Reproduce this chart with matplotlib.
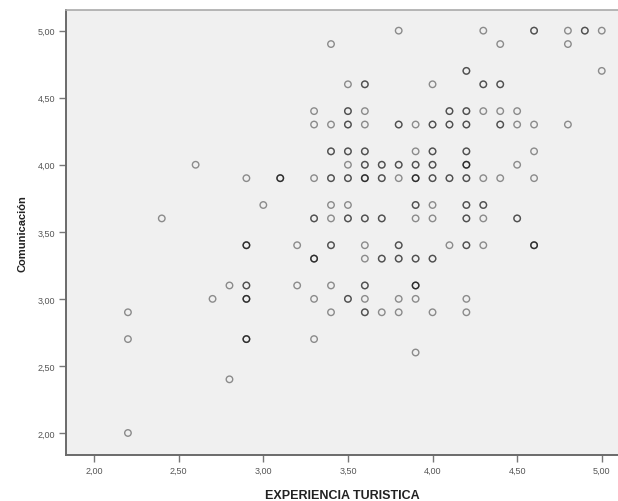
import numpy as np
import matplotlib
matplotlib.use("Agg")
import matplotlib.pyplot as plt
from matplotlib.ticker import FuncFormatter

# Data: (EXPERIENCIA TURISTICA, Comunicación, number of overlapping cases)
exp_x = [3.8, 4.3, 4.6, 4.8, 4.9, 5.0,
         3.4, 4.4, 4.8,
         4.2, 5.0,
         3.5, 3.6, 4.0, 4.3, 4.4,
         3.3, 3.5, 3.6, 4.1, 4.2, 4.3, 4.4, 4.5,
         3.3, 3.4, 3.5, 3.6, 3.8, 3.9, 4.0, 4.1, 4.2, 4.4, 4.5, 4.6, 4.8,
         3.4, 3.5, 3.6, 3.9, 4.0, 4.2, 4.6,
         2.6, 3.5, 3.6, 3.7, 3.8, 3.9, 4.0, 4.2, 4.5,
         2.9, 3.1, 3.3, 3.4, 3.5, 3.6, 3.7, 3.8, 3.9, 4.0, 4.1, 4.2, 4.3, 4.4, 4.6,
         3.0, 3.4, 3.5, 3.9, 4.0, 4.2, 4.3,
         2.4, 3.3, 3.4, 3.5, 3.6, 3.7, 3.9, 4.0, 4.2, 4.3, 4.5,
         2.9, 3.2, 3.4, 3.6, 3.8, 4.1, 4.2, 4.3, 4.6,
         3.3, 3.6, 3.7, 3.8, 3.9, 4.0,
         2.8, 2.9, 3.2, 3.4, 3.6, 3.9,
         2.7, 2.9, 3.3, 3.5, 3.6, 3.8, 3.9, 4.2,
         2.2, 3.4, 3.6, 3.7, 3.8, 4.0, 4.2,
         2.2, 2.9, 3.3,
         3.9,
         2.8,
         2.2]
com_y = [5.0] * 6 + [4.9] * 3 + [4.7] * 2 + [4.6] * 5 + [4.4] * 8 + [4.3] * 13 + \
        [4.1] * 7 + [4.0] * 9 + [3.9] * 15 + [3.7] * 7 + [3.6] * 11 + [3.4] * 9 + \
        [3.3] * 6 + [3.1] * 6 + [3.0] * 8 + [2.9] * 7 + [2.7] * 3 + [2.6] + [2.4] + [2.0]
counts = [1, 1, 2, 1, 2, 1,
          1, 1, 1,
          2, 1,
          1, 2, 1, 2, 2,
          1, 2, 1, 2, 2, 1, 1, 1,
          1, 1, 2, 1, 2, 1, 2, 2, 2, 2, 1, 1, 1,
          2, 2, 2, 1, 2, 2, 1,
          1, 1, 2, 2, 2, 2, 2, 3, 1,
          1, 3, 1, 2, 2, 3, 2, 1, 3, 2, 2, 2, 1, 1, 1,
          1, 1, 1, 2, 1, 2, 2,
          1, 2, 1, 2, 2, 2, 1, 1, 2, 1, 2,
          3, 1, 2, 1, 2, 1, 2, 1, 3,
          3, 1, 2, 2, 2, 2,
          1, 2, 1, 1, 2, 3,
          1, 3, 1, 2, 1, 1, 1, 1,
          1, 1, 2, 1, 1, 1, 1,
          1, 3, 1,
          1,
          1,
          1]

x_ticks = [2.0, 2.5, 3.0, 3.5, 4.0, 4.5, 5.0]
y_ticks = [2.0, 2.5, 3.0, 3.5, 4.0, 4.5, 5.0]
x_label = "EXPERIENCIA TURISTICA"
y_label = "Comunicación"

xs = np.repeat(np.array(exp_x), counts)
ys = np.repeat(np.array(com_y), counts)

plt.rcParams['font.family'] = ['Liberation Sans', 'DejaVu Sans']

fig = plt.figure(figsize=(6.18, 5.02), dpi=100)
ax = fig.add_axes([66 / 618, 1 - 455.7 / 502, 1 - 66 / 618, (455.7 - 11) / 502])
ax.set_facecolor('#f0f0f0')

ax.scatter(xs, ys, s=22, facecolors='none', edgecolors=(0, 0, 0, 0.42),
           linewidths=1.0, zorder=3)

ax.set_xlim(1.834, 5.096)
ax.set_ylim(1.838, 5.154)
ax.set_xticks(x_ticks)
ax.set_yticks(y_ticks)
fmt = FuncFormatter(lambda v, p: f"{v:.2f}".replace('.', ','))
ax.xaxis.set_major_formatter(fmt)
ax.yaxis.set_major_formatter(fmt)
ax.tick_params(axis='both', direction='out', length=5, width=1.0, color='#777777',
               labelsize=6.5, labelcolor='#555555', pad=3)

for side in ['left', 'bottom']:
    ax.spines[side].set_color('#6a6a6a')
    ax.spines[side].set_linewidth(1.4)
ax.spines['top'].set_color('#aaaaaa')
ax.spines['top'].set_linewidth(1.2)
ax.spines['right'].set_visible(False)

ax.set_xlabel(x_label, fontsize=9, fontweight='bold', color='#222222', labelpad=10)
ax.set_ylabel(y_label, fontsize=8, fontweight='bold', color='#222222', labelpad=7)

fig.savefig('out.png', dpi=100, facecolor='white')
